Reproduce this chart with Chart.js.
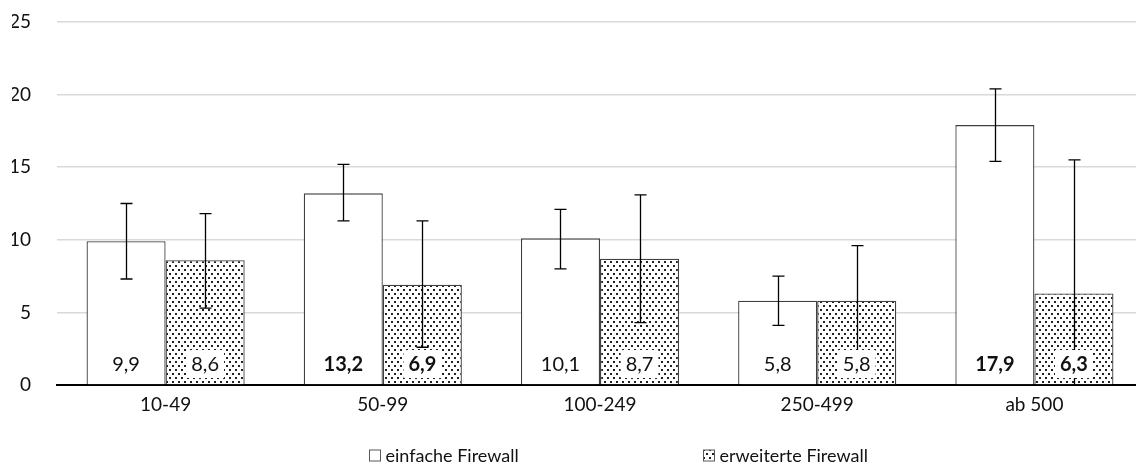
<!DOCTYPE html>
<html>
<head>
<meta charset="utf-8">
<script src="https://cdn.jsdelivr.net/npm/chart.js@4"></script>
<style>
  html, body { margin: 0; padding: 0; background: #fff; overflow: hidden; }
  #wrap { position: relative; width: 1143px; height: 475px; }
</style>
</head>
<body>
<div id="wrap"><canvas id="barChart"></canvas></div>
<script>
// Daten
var kategorien = ['10-49', '50-99', '100-249', '250-499', 'ab 500'];
var serienNamen = ['einfache Firewall', 'erweiterte Firewall'];
var einfach = [9.9, 13.2, 10.1, 5.8, 17.9];
var erweitert = [8.6, 6.9, 8.7, 5.8, 6.3];
// Fehlerbalken (obere / untere Grenze)
var einfachOben = [12.5, 15.2, 12.1, 7.5, 20.4];
var einfachUnten = [7.3, 11.3, 8.0, 4.1, 15.4];
var erweitertOben = [11.8, 11.3, 13.1, 9.6, 15.5];
var erweitertUnten = [5.3, 2.6, 4.3, 2.0, -2.9];
// fett gedruckte Werte
var einfachFett = [false, true, false, false, true];
var erweitertFett = [false, true, false, false, true];
var yTicks = [0, 5, 10, 15, 20, 25];

var schrift = 'Lato, "Open Sans", sans-serif';
var textFarbe = '#111111';
var randFarbe = '#404040';
var groesse = 19;

var canvas = document.getElementById('barChart');
var ctx = canvas.getContext('2d');

function punktMuster() {
  var c = document.createElement('canvas');
  c.width = 6;
  c.height = 8;
  var g = c.getContext('2d');
  g.fillStyle = '#fff';
  g.fillRect(0, 0, 6, 8);
  g.fillStyle = '#222';
  g.fillRect(1, 1, 2, 2);
  g.fillRect(4, 5, 2, 2);
  return ctx.createPattern(c, 'repeat');
}
var muster = punktMuster();

function formatWert(v) {
  return v.toFixed(1).replace('.', ',');
}

// Fehlerbalken + Wertelabels
var extras = {
  id: 'extras',
  afterDatasetsDraw: function (chart) {
    var c = chart.ctx, y = chart.scales.y, a = chart.chartArea;
    c.save();
    c.beginPath();
    c.rect(a.left, a.top - 10, a.right - a.left, a.bottom - a.top + 10);
    c.clip();
    c.strokeStyle = '#000';
    c.lineWidth = 1.3;
    chart.data.datasets.forEach(function (ds, d) {
      var meta = chart.getDatasetMeta(d);
      meta.data.forEach(function (bar, i) {
        var x = Math.round(bar.x) + 0.5;
        var oben = y.getPixelForValue(ds.fehlerOben[i]);
        var unten = y.getPixelForValue(ds.fehlerUnten[i]);
        c.beginPath();
        c.moveTo(x, oben);
        c.lineTo(x, unten);
        c.moveTo(x - 6, oben);
        c.lineTo(x + 6, oben);
        c.moveTo(x - 6, unten);
        c.lineTo(x + 6, unten);
        c.stroke();
      });
    });
    c.restore();

    c.save();
    c.textAlign = 'center';
    c.textBaseline = 'middle';
    var ly = y.getPixelForValue(0) - 21;
    chart.data.datasets.forEach(function (ds, d) {
      var meta = chart.getDatasetMeta(d);
      meta.data.forEach(function (bar, i) {
        var txt = formatWert(ds.data[i]);
        c.font = (ds.fett[i] ? 'bold ' : '') + (groesse + 1) + 'px ' + schrift;
        var w = c.measureText(txt).width + 10;
        c.fillStyle = '#fff';
        c.fillRect(bar.x - w / 2, ly - 14, w, 28);
        c.fillStyle = textFarbe;
        c.fillText(txt, bar.x, ly + 1);
      });
    });
    c.restore();
  },
  afterDraw: function (chart) {
    // Legende
    var c = chart.ctx;
    var mitte = (chart.chartArea.left + chart.chartArea.right) / 2;
    var startX = [mitte - 231, mitte + 103];
    var ly = 456;
    c.save();
    c.font = (groesse - 1) + 'px ' + schrift;
    c.textBaseline = 'middle';
    c.textAlign = 'left';
    chart.data.datasets.forEach(function (ds, d) {
      var bx = Math.round(startX[d]) + 0.5;
      c.fillStyle = ds.backgroundColor;
      c.fillRect(bx, ly - 6, 11, 11);
      c.strokeStyle = '#595959';
      c.lineWidth = 1;
      c.strokeRect(bx, ly - 6, 11, 11);
      c.fillStyle = textFarbe;
      c.fillText(ds.label, bx + 16, ly);
    });
    c.restore();
  }
};

new Chart(ctx, {
  type: 'bar',
  data: {
    labels: kategorien,
    datasets: [{
      label: serienNamen[0],
      data: einfach,
      fehlerOben: einfachOben,
      fehlerUnten: einfachUnten,
      fett: einfachFett,
      backgroundColor: '#ffffff',
      borderColor: randFarbe,
      borderWidth: 1.3,
      borderSkipped: 'bottom'
    }, {
      label: serienNamen[1],
      data: erweitert,
      fehlerOben: erweitertOben,
      fehlerUnten: erweitertUnten,
      fett: erweitertFett,
      backgroundColor: muster,
      borderColor: randFarbe,
      borderWidth: 1.3,
      borderSkipped: 'bottom'
    }]
  },
  options: {
    responsive: true,
    maintainAspectRatio: false,
    animation: false,
    layout: { padding: { left: 12, right: 0, top: 22, bottom: 50 } },
    plugins: {
      legend: { display: false },
      tooltip: { enabled: false }
    },
    datasets: {
      bar: { categoryPercentage: 0.728, barPercentage: 1 }
    },
    scales: {
      x: {
        grid: { display: false, drawTicks: false },
        border: { display: true, color: '#000', width: 2 },
        ticks: { color: textFarbe, padding: 8, font: { family: schrift, size: groesse } },
        afterFit: function (scale) { scale.height = 40; }
      },
      y: {
        min: 0,
        max: 25,
        afterBuildTicks: function (scale) {
          scale.ticks = yTicks.map(function (v) { return { value: v }; });
        },
        grid: { color: '#d9d9d9', lineWidth: 1.5, drawTicks: false },
        border: { display: false },
        ticks: { color: textFarbe, padding: 26, font: { family: schrift, size: groesse } },
        afterFit: function (scale) {
          scale.width = 45;
          scale.paddingTop = 0;
          scale.paddingBottom = 0;
        }
      }
    }
  },
  plugins: [extras]
});
</script>
</body>
</html>
